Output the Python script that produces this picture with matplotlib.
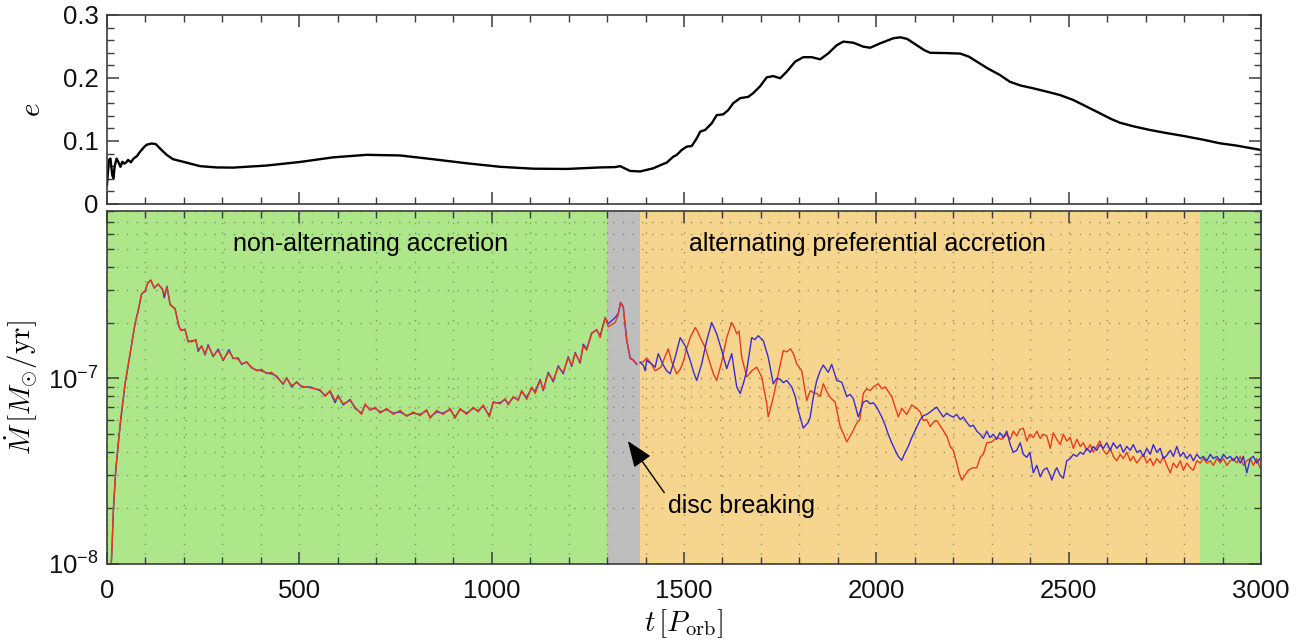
import matplotlib.pyplot as plt
from matplotlib.ticker import MultipleLocator, FixedLocator, FuncFormatter, LogLocator, NullFormatter

plt.rcParams['font.family'] = ['Liberation Sans', 'DejaVu Sans']
plt.rcParams['mathtext.fontset'] = 'cm'

# eccentricity of the binary
t_ecc = [0, 5, 9, 14, 17, 20, 25, 30, 35, 40, 45, 50, 55, 62, 69, 78, 86, 96, 103, 116,
         127, 138, 155, 172, 198, 242, 285, 328, 415, 502, 588, 675, 762, 848, 935, 1022,
         1108, 1195, 1282, 1320, 1334, 1360, 1386, 1420, 1446, 1455, 1472, 1481, 1494, 1507,
         1520, 1533, 1542, 1555, 1572, 1585, 1602, 1615, 1628, 1646, 1667, 1680, 1698, 1715,
         1732, 1750, 1767, 1789, 1810, 1832, 1854, 1875, 1897, 1914, 1940, 1966, 1984, 2010,
         2044, 2062, 2080, 2105, 2125, 2140, 2180, 2218, 2240, 2261, 2290, 2321, 2347, 2375,
         2408, 2445, 2477, 2512, 2545, 2581, 2610, 2633, 2670, 2711, 2750, 2798, 2850, 2893,
         2937, 2970, 3000]
ecc = [0.030, 0.070, 0.072, 0.045, 0.041, 0.060, 0.072, 0.066, 0.059, 0.067, 0.064, 0.066,
       0.070, 0.066, 0.072, 0.076, 0.083, 0.090, 0.094, 0.096, 0.095, 0.088, 0.078, 0.071,
       0.067, 0.060, 0.058, 0.0577, 0.061, 0.0667, 0.074, 0.078, 0.077, 0.071, 0.0646, 0.059,
       0.056, 0.0556, 0.058, 0.0585, 0.060, 0.0524, 0.0516, 0.0566, 0.0635, 0.0656, 0.075,
       0.0778, 0.0857, 0.091, 0.092, 0.104, 0.1148, 0.1175, 0.128, 0.141, 0.1423, 0.149,
       0.160, 0.168, 0.170, 0.176, 0.187, 0.201, 0.203, 0.1995, 0.210, 0.226, 0.233, 0.233,
       0.2296, 0.239, 0.252, 0.2577, 0.256, 0.2497, 0.248, 0.255, 0.263, 0.2646, 0.262, 0.252,
       0.244, 0.240, 0.2395, 0.2387, 0.234, 0.226, 0.215, 0.2048, 0.194, 0.188, 0.1836, 0.178,
       0.173, 0.165, 0.155, 0.144, 0.135, 0.129, 0.123, 0.1175, 0.113, 0.108, 0.102, 0.0963,
       0.0926, 0.089, 0.0857]

# accretion rates onto the two stars, in units of 1e-7 Msun/yr
t_early = [10, 13, 16.5, 22.5, 29, 36, 47, 60, 73, 81, 90, 99, 106, 114, 123, 133, 144, 149,
           156, 164, 177, 187, 192, 203, 211, 220, 231, 237, 246, 255, 263, 276, 289, 302, 317,
           328, 341, 350, 363, 376, 389, 402, 415, 428, 441, 458, 467, 480, 493, 506, 528, 554,
           567, 580, 593, 601, 614, 632, 645, 662, 671, 684, 697, 710, 727, 744, 762, 779, 796,
           814, 831, 840, 857, 874, 892, 905, 918, 935, 952, 965, 978, 994, 1004, 1022, 1035,
           1043, 1056, 1069, 1078, 1091, 1104, 1113, 1126, 1134, 1147, 1160, 1173, 1186, 1199,
           1208, 1217, 1230, 1238, 1247, 1260, 1273, 1282, 1295, 1303, 1321, 1329, 1335, 1342,
           1351, 1360, 1368, 1377]
mdot_red_early = [0.09, 0.12, 0.195, 0.32, 0.43, 0.62, 0.94, 1.36, 1.97, 2.32, 2.85, 2.97, 3.28,
                  3.40, 3.06, 3.24, 3.01, 2.85, 3.10, 2.52, 2.36, 1.93, 1.81, 1.85, 1.57, 1.60,
                  1.60, 1.43, 1.49, 1.36, 1.50, 1.33, 1.415, 1.26, 1.40, 1.29, 1.27, 1.20, 1.22,
                  1.15, 1.10, 1.12, 1.06, 1.08, 1.016, 0.937, 1.0, 0.915, 0.95, 0.91, 0.89, 0.87,
                  0.80, 0.862, 0.76, 0.80, 0.73, 0.76, 0.70, 0.64, 0.73, 0.673, 0.70, 0.65, 0.69,
                  0.64, 0.673, 0.625, 0.66, 0.63, 0.68, 0.61, 0.673, 0.64, 0.69, 0.61, 0.69, 0.64,
                  0.70, 0.66, 0.72, 0.62, 0.75, 0.73, 0.78, 0.72, 0.80, 0.76, 0.862, 0.77, 0.90,
                  0.83, 0.976, 0.87, 1.06, 0.98, 1.15, 1.08, 1.29, 1.18, 1.36, 1.23, 1.50, 1.42,
                  1.74, 1.84, 1.66, 2.13, 1.90, 2.00, 2.20, 2.57, 2.45, 1.60, 1.30, 1.25, 1.20]
mdot_blue_early = [0.09, 0.12, 0.19, 0.31, 0.44, 0.60, 0.93, 1.35, 1.98, 2.30, 2.86, 2.95, 3.27,
                   3.38, 3.08, 3.22, 3.04, 2.72, 3.14, 2.50, 2.38, 1.90, 1.83, 1.83, 1.59, 1.58,
                   1.62, 1.40, 1.50, 1.34, 1.52, 1.31, 1.44, 1.25, 1.43, 1.28, 1.29, 1.19, 1.23,
                   1.14, 1.11, 1.10, 1.07, 1.06, 1.03, 0.93, 1.01, 0.90, 0.96, 0.90, 0.90, 0.86,
                   0.81, 0.85, 0.74, 0.81, 0.72, 0.77, 0.69, 0.65, 0.72, 0.68, 0.69, 0.66, 0.68,
                   0.65, 0.66, 0.63, 0.65, 0.64, 0.67, 0.62, 0.66, 0.65, 0.68, 0.62, 0.68, 0.65,
                   0.69, 0.67, 0.71, 0.63, 0.74, 0.74, 0.77, 0.73, 0.79, 0.77, 0.85, 0.79, 0.89,
                   0.85, 0.99, 0.86, 1.08, 0.96, 1.17, 1.06, 1.31, 1.16, 1.38, 1.21, 1.53, 1.44,
                   1.76, 1.82, 1.70, 2.13, 1.97, 2.13, 2.24, 2.57, 2.43, 1.62, 1.28, 1.26, 1.19]

t_red_late = [1386, 1394, 1403, 1415, 1425, 1440, 1450, 1459, 1468, 1481, 1490, 1498, 1507, 1516,
              1529, 1535, 1542, 1555, 1568, 1577, 1585, 1598, 1611, 1624, 1630, 1637, 1643, 1650,
              1663, 1676, 1689, 1702, 1715, 1719, 1732, 1745, 1758, 1767, 1777, 1785, 1793, 1806,
              1819, 1828, 1836, 1845, 1854, 1862, 1870, 1880, 1893, 1906, 1915, 1923, 1932, 1940,
              1948, 1957, 1966, 1975, 1984, 1992, 2005, 2014, 2023, 2031, 2040, 2049, 2057, 2066,
              2079, 2092, 2105, 2114, 2122, 2131, 2140, 2148, 2157, 2165, 2174, 2183, 2192, 2200,
              2209, 2215, 2222, 2230, 2239, 2250, 2261, 2270, 2278, 2287, 2300, 2313, 2326, 2339,
              2348, 2356, 2365, 2373, 2382, 2391, 2399, 2408, 2417, 2426, 2434, 2443, 2452, 2460,
              2469, 2478, 2486, 2495, 2504, 2512, 2521, 2530, 2538, 2547, 2556, 2564, 2573, 2581,
              2590, 2599, 2608, 2616, 2625, 2634, 2642, 2651, 2660, 2668, 2677, 2686, 2694, 2703,
              2712, 2720, 2729, 2738, 2746, 2755, 2764, 2772, 2781, 2790, 2798, 2807, 2816, 2824,
              2833, 2842, 2850, 2859, 2868, 2876, 2885, 2894, 2902, 2911, 2920, 2928, 2937, 2946,
              2954, 2963, 2972, 2980, 2989, 2997]
mdot_red_late = [1.22, 1.23, 1.29, 1.20, 1.10, 1.15, 1.30, 1.445, 1.23, 1.06, 1.12, 1.23, 1.45,
                 1.66, 1.88, 1.80, 1.66, 1.47, 1.20, 1.05, 0.976, 1.23, 1.66, 2.00, 1.90, 1.74,
                 1.80, 1.30, 1.02, 1.10, 1.15, 1.02, 0.73, 0.62, 0.79, 1.06, 1.415, 1.39, 1.445,
                 1.35, 1.20, 1.10, 0.76, 0.86, 0.84, 0.83, 0.80, 0.937, 0.86, 0.79, 0.745, 0.55,
                 0.50, 0.455, 0.49, 0.525, 0.57, 0.60, 0.83, 0.88, 0.86, 0.90, 0.937, 0.88, 0.90,
                 0.85, 0.80, 0.70, 0.62, 0.69, 0.64, 0.72, 0.69, 0.66, 0.594, 0.60, 0.55, 0.58,
                 0.594, 0.56, 0.525, 0.49, 0.43, 0.41, 0.35, 0.31, 0.283, 0.30, 0.32, 0.33, 0.33,
                 0.376, 0.39, 0.45, 0.455, 0.48, 0.47, 0.50, 0.47, 0.52, 0.49, 0.53, 0.54, 0.46,
                 0.50, 0.48, 0.52, 0.475, 0.50, 0.49, 0.42, 0.51, 0.47, 0.44, 0.50, 0.46, 0.48,
                 0.42, 0.47, 0.43, 0.45, 0.41, 0.44, 0.40, 0.43, 0.46, 0.41, 0.39, 0.42, 0.38,
                 0.36, 0.39, 0.37, 0.40, 0.36, 0.38, 0.35, 0.37, 0.39, 0.35, 0.37, 0.34, 0.37,
                 0.35, 0.38, 0.34, 0.31, 0.35, 0.33, 0.36, 0.32, 0.35, 0.33, 0.32, 0.36, 0.35,
                 0.37, 0.35, 0.36, 0.34, 0.37, 0.35, 0.37, 0.34, 0.36, 0.37, 0.35, 0.38, 0.34,
                 0.36, 0.37, 0.34, 0.37, 0.33]

t_blue_late = [1386, 1394, 1399, 1403, 1415, 1425, 1433, 1446, 1455, 1464, 1477, 1490, 1503, 1516,
               1525, 1533, 1546, 1559, 1572, 1585, 1598, 1611, 1624, 1637, 1646, 1655, 1663, 1676,
               1684, 1693, 1706, 1719, 1732, 1741, 1750, 1758, 1767, 1780, 1789, 1797, 1810, 1823,
               1828, 1836, 1845, 1854, 1862, 1875, 1884, 1897, 1910, 1923, 1932, 1940, 1953, 1966,
               1975, 1984, 1992, 2001, 2014, 2023, 2031, 2040, 2049, 2057, 2066, 2075, 2083, 2092,
               2101, 2114, 2122, 2131, 2140, 2148, 2157, 2165, 2174, 2183, 2192, 2200, 2209, 2218,
               2226, 2235, 2244, 2252, 2261, 2270, 2278, 2287, 2295, 2304, 2313, 2321, 2330, 2339,
               2348, 2356, 2365, 2374, 2382, 2391, 2399, 2408, 2417, 2426, 2434, 2443, 2452, 2456,
               2465, 2469, 2478, 2486, 2495, 2504, 2512, 2521, 2530, 2538, 2547, 2556, 2564, 2573,
               2581, 2590, 2599, 2608, 2616, 2625, 2634, 2642, 2651, 2660, 2668, 2677, 2686, 2694,
               2703, 2712, 2720, 2729, 2738, 2746, 2755, 2764, 2772, 2781, 2790, 2798, 2807, 2816,
               2824, 2833, 2842, 2850, 2859, 2868, 2876, 2885, 2894, 2902, 2911, 2920, 2928, 2937,
               2946, 2954, 2963, 2972, 2980, 2989, 2997]
mdot_blue_late = [1.22, 1.18, 1.10, 1.25, 1.20, 1.15, 1.36, 1.18, 1.10, 1.06, 1.30, 1.66, 1.50,
                  1.25, 1.08, 0.976, 1.20, 1.60, 2.00, 1.74, 1.415, 1.13, 1.36, 0.90, 0.83, 0.95,
                  1.10, 1.66, 1.62, 1.70, 1.60, 1.30, 0.937, 1.00, 0.99, 0.95, 0.976, 0.90, 0.80,
                  0.673, 0.54, 0.58, 0.62, 0.79, 0.976, 1.10, 1.18, 1.08, 1.19, 0.976, 0.955, 0.80,
                  0.82, 0.78, 0.62, 0.745, 0.76, 0.73, 0.74, 0.70, 0.62, 0.56, 0.50, 0.45, 0.41,
                  0.38, 0.362, 0.40, 0.43, 0.48, 0.525, 0.60, 0.63, 0.64, 0.66, 0.68, 0.70, 0.66,
                  0.62, 0.65, 0.63, 0.62, 0.64, 0.60, 0.62, 0.58, 0.55, 0.56, 0.52, 0.50, 0.475,
                  0.52, 0.48, 0.50, 0.47, 0.51, 0.48, 0.52, 0.44, 0.40, 0.41, 0.45, 0.39, 0.376,
                  0.40, 0.31, 0.34, 0.295, 0.32, 0.33, 0.30, 0.283, 0.32, 0.33, 0.30, 0.29, 0.36,
                  0.37, 0.39, 0.38, 0.40, 0.39, 0.42, 0.40, 0.43, 0.41, 0.44, 0.42, 0.45, 0.41,
                  0.45, 0.42, 0.44, 0.40, 0.43, 0.41, 0.44, 0.40, 0.41, 0.38, 0.42, 0.39, 0.44,
                  0.40, 0.42, 0.37, 0.385, 0.41, 0.38, 0.43, 0.38, 0.40, 0.37, 0.39, 0.36, 0.39,
                  0.37, 0.38, 0.36, 0.39, 0.37, 0.38, 0.36, 0.39, 0.37, 0.38, 0.36, 0.38, 0.35,
                  0.38, 0.31, 0.37, 0.38, 0.35, 0.37]

# accretion phases
phase_edges = [0, 1300, 1385, 2840, 3000]
phase_colors = ['#aee68a', '#bebebe', '#f6d68e', '#aee68a']

t_ticks = [0, 500, 1000, 1500, 2000, 2500, 3000]
ecc_ticks = [0, 0.1, 0.2, 0.3]

spine_col = '#3c3c3c'
tick_fs = 18.5
note_fs = 18

fig = plt.figure(figsize=(13.11, 6.4), dpi=100)
ax_e = fig.add_axes([0.0816, 0.6813, 0.8803, 0.2953])
ax_m = fig.add_axes([0.0816, 0.1188, 0.8803, 0.5516])

# top: eccentricity
ax_e.plot(t_ecc, ecc, color='k', lw=1.7)
ax_e.set_xlim(0, 3000)
ax_e.set_ylim(0, 0.3)
ax_e.xaxis.set_major_locator(FixedLocator(t_ticks))
ax_e.xaxis.set_minor_locator(MultipleLocator(100))
ax_e.xaxis.set_major_formatter(NullFormatter())
ax_e.yaxis.set_major_locator(FixedLocator(ecc_ticks))
ax_e.yaxis.set_minor_locator(MultipleLocator(0.02))
ax_e.yaxis.set_major_formatter(FuncFormatter(lambda v, p: '0' if v == 0 else f'{v:.1f}'))
ax_e.set_ylabel(r'$e$', fontsize=21)
ax_e.yaxis.set_label_coords(-0.053, 0.5)

# bottom: accretion rates
for lo, hi, col in zip(phase_edges[:-1], phase_edges[1:], phase_colors):
    ax_m.axvspan(lo, hi, color=col, lw=0, zorder=0)

ax_m.plot(t_early, [m * 1e-7 for m in mdot_blue_early], color='#3b2bd6', lw=1.0, zorder=3)
ax_m.plot(t_early, [m * 1e-7 for m in mdot_red_early], color='#ea3a1e', lw=1.0, zorder=4)
ax_m.plot(t_blue_late, [m * 1e-7 for m in mdot_blue_late], color='#3b2bd6', lw=1.0, zorder=4)
ax_m.plot(t_red_late, [m * 1e-7 for m in mdot_red_late], color='#ea3a1e', lw=1.0, zorder=3)

ax_m.set_yscale('log')
ax_m.set_xlim(0, 3000)
ax_m.set_ylim(1e-8, 8e-7)
ax_m.xaxis.set_major_locator(FixedLocator(t_ticks))
ax_m.xaxis.set_minor_locator(MultipleLocator(100))
ax_m.yaxis.set_major_locator(FixedLocator([1e-8, 1e-7]))
ax_m.yaxis.set_minor_locator(LogLocator(base=10, subs=range(2, 10)))
ax_m.yaxis.set_minor_formatter(NullFormatter())
ax_m.yaxis.set_major_formatter(FuncFormatter(
    lambda v, p: r'$\mathregular{10^{-8}}$' if v < 5e-8 else r'$\mathregular{10^{-7}}$'))
ax_m.grid(which='both', linestyle=(0, (1, 6)), color='#55604c', alpha=0.6, lw=1.0)
for gl in ax_m.get_xgridlines() + ax_m.get_ygridlines():
    gl.set_zorder(1)

ax_m.set_ylabel(r'$\dot{M}\,[M_{\odot}/\mathrm{yr}]$', fontsize=21)
ax_m.yaxis.set_label_coords(-0.058, 0.5)
ax_m.set_xlabel(r'$t\,[P_{\rm orb}]$', fontsize=21, labelpad=3)

ax_m.text(684, 5.3e-7, 'non-alternating accretion', fontsize=note_fs, ha='center', va='center',
          zorder=5)
ax_m.text(1978, 5.3e-7, 'alternating preferential accretion', fontsize=note_fs, ha='center',
          va='center', zorder=5)
ax_m.annotate('disc breaking', xy=(1354, 4.6e-8), xytext=(1458, 2.05e-8), fontsize=note_fs,
              ha='left', va='center', zorder=5,
              arrowprops=dict(arrowstyle='-|>,head_length=0.9,head_width=0.35', color='k',
                              lw=1.0, relpos=(0.0, 0.85), shrinkA=1, shrinkB=0))

for ax in (ax_e, ax_m):
    ax.tick_params(which='both', direction='in', top=True, right=True, colors=spine_col,
                   labelcolor='#111111', labelsize=tick_fs)
    ax.tick_params(which='major', length=8.5, width=1.1)
    ax.tick_params(which='minor', length=5, width=1.0)
    for s in ax.spines.values():
        s.set_color(spine_col)
        s.set_linewidth(1.2)
        s.set_zorder(6)

ax_e.tick_params(axis='y', pad=6)
ax_m.tick_params(axis='y', pad=6)
ax_m.tick_params(axis='x', pad=11)

fig.savefig('out.png', dpi=100)
